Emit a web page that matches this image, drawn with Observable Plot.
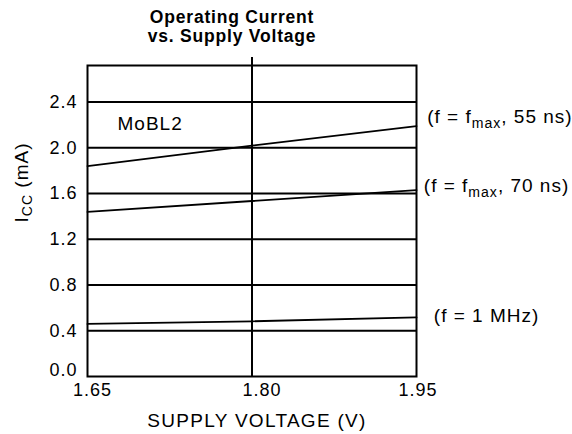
<!DOCTYPE html>
<html><head><meta charset="utf-8">
<script src="https://cdn.jsdelivr.net/npm/d3@7"></script>
<script src="https://cdn.jsdelivr.net/npm/@observablehq/plot@0.6"></script>
<style>
body{margin:0;background:#fff;width:572px;height:434px;overflow:hidden;font-family:"Liberation Sans",Arial,Helvetica,sans-serif;}
#title{width:464px;height:48px;box-sizing:border-box;padding-top:8px;text-align:center;font-weight:bold;font-size:17.5px;line-height:19px;letter-spacing:0.8px;color:#000;}
#chart svg{display:block;}
</style></head><body>
<div id="title">Operating Current<br>vs. Supply Voltage</div>
<div id="chart"></div>
<script>
// ---- data ----
const voltage = [1.65, 1.80, 1.95];
const icc55ns = [1.84, 2.02, 2.19];
const icc70ns = [1.44, 1.535, 1.63];
const icc1MHz = [0.46, 0.483, 0.517];
const seriesLabels = ["(f = f_{max}, 55 ns)", "(f = f_{max}, 70 ns)", "(f = 1 MHz)"];
const yTicks = [0.0, 0.4, 0.8, 1.2, 1.6, 2.0, 2.4];
const xTicks = [1.65, 1.80, 1.95];
const markerVoltage = [1.80];
const deviceLabel = ["MoBL2"];
const xLabel = ["SUPPLY VOLTAGE (V)"];
const yLabel = ["I_{CC} (mA)"];
const xDomain = [1.65, 1.95];
const yDomain = [0, 2.72];

const seriesValues = [icc55ns, icc70ns, icc1MHz];
const rows = seriesValues.flatMap((vals, i) => vals.map((v, j) => ({x: voltage[j], y: v, s: seriesLabels[i]})));
const ends = seriesValues.map((vals, i) => ({x: voltage[voltage.length - 1], y: vals[vals.length - 1], s: seriesLabels[i]}));

const fmtY = d3.format(".1f"), fmtX = d3.format(".2f");
const labelDx = [10.7, 7.3, 17.3], labelDy = [-2.7, 2.3, 4.6];
const xTickDx = [5, 10, 1.5];

const svg = Plot.plot({
  width: 572, height: 386,
  marginTop: 17, marginBottom: 58, marginLeft: 87, marginRight: 156,
  x: {domain: xDomain, axis: null},
  y: {domain: yDomain, axis: null},
  style: {fontFamily: '"Liberation Sans", Arial, Helvetica, sans-serif', fontSize: "18px", color: "black", background: "white", overflow: "visible", letterSpacing: "1px"},
  marks: [
    Plot.ruleY(yTicks.filter(d => d > 0), {stroke: "black", strokeWidth: 2}),
    Plot.ruleX(markerVoltage, {stroke: "black", strokeWidth: 2, insetTop: -8}),
    Plot.frame({stroke: "black", strokeWidth: 2}),
    Plot.line(rows, {x: "x", y: "y", z: "s", stroke: "black", strokeWidth: 1.8}),
    Plot.text(yTicks.filter(d => d > 0), {y: d => d, frameAnchor: "left", text: d => fmtY(d), textAnchor: "end", lineAnchor: "middle", dx: -10, fill: "black"}),
    Plot.text(yTicks.filter(d => d === 0), {y: d => d, frameAnchor: "left", text: d => fmtY(d), textAnchor: "end", lineAnchor: "middle", dx: -10, dy: -6, fill: "black"}),
    ...xTicks.map((t, i) => Plot.text([t], {x: d => d, frameAnchor: "bottom", text: d => fmtX(d), textAnchor: "middle", lineAnchor: "top", dy: 7, dx: xTickDx[i], fill: "black"})),
    Plot.text(xLabel, {text: d => d, frameAnchor: "bottom", textAnchor: "middle", lineAnchor: "bottom", dy: 50.5, dx: 5, fontSize: 19, fill: "black"}),
    Plot.text(yLabel, {text: d => d, frameAnchor: "left", rotate: -90, textAnchor: "middle", lineAnchor: "bottom", dx: -60, dy: -38.5, fontSize: 19, fill: "black"}),
    Plot.text(deviceLabel, {text: d => d, frameAnchor: "top-left", textAnchor: "start", lineAnchor: "middle", dx: 30, dy: 58, fontSize: 19, fill: "black"}),
    ...ends.map((d, i) => Plot.text([d], {x: "x", y: "y", text: "s", textAnchor: "start", lineAnchor: "bottom", dx: labelDx[i], dy: labelDy[i], fontSize: 19, fill: "black"}))
  ]
});
document.getElementById("chart").appendChild(svg);

// subscripts & spacing tweaks
d3.select(svg).selectAll("text").each(function() {
  const t = this.textContent;
  if (t === "SUPPLY VOLTAGE (V)") this.setAttribute("letter-spacing", "1.3px");
  if (!t.includes("_{")) return;
  const parts = t.split(/(_\{[^}]*\})/).filter(p => p.length);
  const el = d3.select(this);
  el.text(null);
  const fs = parseFloat(getComputedStyle(this).fontSize) || 19;
  const sub = fs * 0.74, shift = fs * 0.22;
  let inSub = false;
  parts.forEach(p => {
    const m = p.match(/^_\{(.*)\}$/);
    if (m) { el.append("tspan").attr("font-size", sub).attr("dy", shift).text(m[1]); inSub = true; }
    else { const ts = el.append("tspan").text(p); if (inSub) { ts.attr("dy", -shift); inSub = false; } }
  });
});
</script>
</body></html>
